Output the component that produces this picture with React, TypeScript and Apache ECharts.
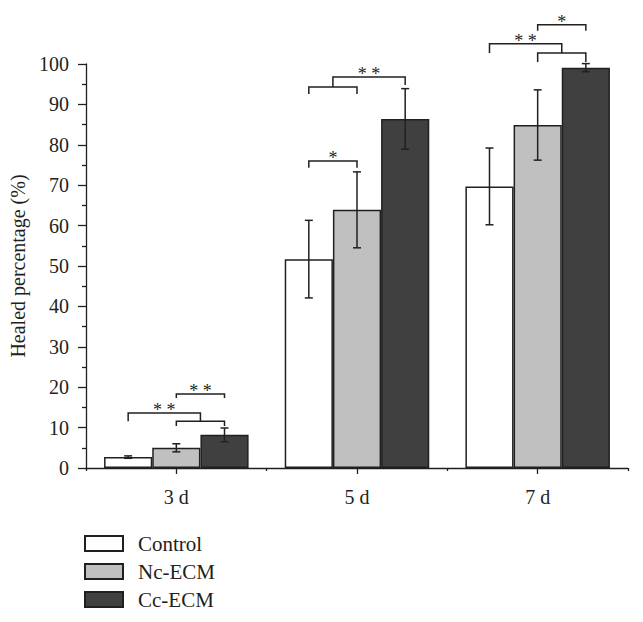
import React, { useEffect, useRef } from "react";
import * as echarts from "echarts";

const categories = ["3 d", "5 d", "7 d"];
const groups = ["Control", "Nc-ECM", "Cc-ECM"];
const controlMean = [2.7, 51.7, 69.7];
const controlSd = [0.3, 9.6, 9.5];
const ncMean = [5.0, 63.9, 84.9];
const ncSd = [1.0, 9.4, 8.7];
const ccMean = [8.2, 86.4, 99.1];
const ccSd = [1.7, 7.5, 1.0];
const yTicks = [0, 10, 20, 30, 40, 50, 60, 70, 80, 90, 100];

// [category, fromBar, toBar, topValue, leftLegBottom, rightLegBottom]
const brackets = [
  [0, 1, 2, 11.6, 10.4, 10.4],
  [0, 0, 1.5, 13.6, 11.6, 11.6],
  [0, 1, 2, 18.3, 17.3, 17.3],
  [1, 0, 1, 76.0, 74.3, 74.3],
  [1, 0, 1, 94.3, 92.6, 92.6],
  [1, 0.5, 2, 96.8, 94.3, 94.8],
  [2, 1, 2, 102.7, 100.5, 100.5],
  [2, 0, 1.5, 105.0, 102.7, 102.7],
  [2, 1, 2, 109.7, 108.2, 108.2],
];
const bracketLabels = ["", "* *", "* *", "*", "", "* *", "", "* *", "*"];

const colors = ["#ffffff", "#c0c0c0", "#404040"];
const ink = "#231f20";
const font = "Liberation Serif";

export default function App() {
  const ref = useRef<HTMLDivElement>(null);
  useEffect(() => {
    if (!ref.current) return;
    const chart = echarts.init(ref.current, undefined, { renderer: "svg" });
    const means = [controlMean, ncMean, ccMean];
    const sds = [controlSd, ncSd, ccSd];
    const errData: number[][] = [];
    for (let g = 0; g < 3; g++) {
      for (let c = 0; c < 3; c++) {
        errData.push([c, g, means[g][c], sds[g][c]]);
      }
    }
    const barSeries = groups.map((name, g) => ({
      name,
      type: "bar",
      data: means[g],
      barGap: "0%",
      barCategoryGap: "20%",
      itemStyle: { color: colors[g], borderColor: ink, borderWidth: 1.5 },
      z: 2,
    }));
    const option = {
      animation: false,
      textStyle: { fontFamily: font },
      grid: { left: 86, right: 15, top: 64, bottom: 154, containLabel: false },
      legend: {
        data: groups,
        orient: "vertical",
        left: 84,
        top: 533,
        height: 90,
        padding: 0,
        itemWidth: 38,
        itemHeight: 15,
        itemGap: 7,
        icon: "rect",
        textStyle: {
          fontFamily: font,
          fontSize: 21,
          color: ink,
          padding: [0, 0, 0, 10],
        },
      },
      xAxis: [
        {
          type: "category",
          data: categories,
          axisLine: { show: true, lineStyle: { color: ink, width: 1.3 } },
          axisTick: { show: true, alignWithLabel: true, length: 6, lineStyle: { color: ink, width: 1.3 } },
          axisLabel: { fontFamily: font, fontSize: 20, color: ink, margin: 19 },
          splitLine: { show: false },
        },
        {
          type: "category",
          data: categories,
          position: "bottom",
          axisLine: { show: false },
          axisTick: { show: true, length: 3, lineStyle: { color: ink, width: 1.3 } },
          axisLabel: { show: false },
          splitLine: { show: false },
        },
      ],
      yAxis: {
        type: "value",
        min: yTicks[0],
        max: yTicks[yTicks.length - 1],
        interval: 10,
        name: "Healed percentage (%)",
        nameLocation: "middle",
        nameGap: 53,
        nameRotate: 90,
        nameTextStyle: { fontFamily: font, fontSize: 20, color: ink },
        axisLine: { show: true, lineStyle: { color: ink, width: 1.3 } },
        axisTick: { show: true, length: 8, lineStyle: { color: ink, width: 1.3 } },
        minorTick: { show: true, splitNumber: 2, length: 4, lineStyle: { color: ink, width: 1.3 } },
        axisLabel: { fontFamily: font, fontSize: 20, color: ink, margin: 17 },
        splitLine: { show: false },
      },
      series: [
        ...barSeries,
        {
          type: "custom",
          name: "err",
          data: errData,
          encode: { x: 0, y: 2 },
          z: 5,
          renderItem: (params: any, api: any) => {
            const c = api.value(0);
            const g = api.value(1);
            const m = api.value(2);
            const s = api.value(3);
            const band = api.size([1, 0])[0];
            const bw = (band * 0.8) / 3;
            const center = api.coord([c, m]);
            const x = center[0] + (g - 1) * bw;
            const yHi = api.coord([c, m + s])[1];
            const yLo = api.coord([c, m - s])[1];
            const cap = 4;
            const st = { stroke: ink, lineWidth: 1.5 };
            return {
              type: "group",
              children: [
                { type: "line", shape: { x1: x, y1: yHi, x2: x, y2: yLo }, style: st },
                { type: "line", shape: { x1: x - cap, y1: yHi, x2: x + cap, y2: yHi }, style: st },
                { type: "line", shape: { x1: x - cap, y1: yLo, x2: x + cap, y2: yLo }, style: st },
              ],
            };
          },
        },
        {
          type: "custom",
          name: "sig",
          data: brackets,
          encode: { x: 0, y: 3 },
          z: 6,
          clip: false,
          renderItem: (params: any, api: any) => {
            const c = api.value(0);
            const from = api.value(1);
            const to = api.value(2);
            const top = api.value(3);
            const legL = api.value(4);
            const legR = api.value(5);
            const band = api.size([1, 0])[0];
            const bw = (band * 0.8) / 3;
            const base = api.coord([c, top]);
            const x1 = base[0] + (from - 1) * bw;
            const x2 = base[0] + (to - 1) * bw;
            const yT = base[1];
            const yL = api.coord([c, legL])[1];
            const yR = api.coord([c, legR])[1];
            const label = bracketLabels[params.dataIndex];
            const children: any[] = [
              {
                type: "polyline",
                shape: { points: [[x1, yL], [x1, yT], [x2, yT], [x2, yR]] },
                style: { stroke: ink, lineWidth: 1.5, fill: null },
              },
            ];
            if (label) {
              children.push({
                type: "text",
                x: (x1 + x2) / 2,
                y: yT + 6,
                style: {
                  text: label,
                  fontFamily: font,
                  fontSize: 18,
                  fill: ink,
                  align: "center",
                  verticalAlign: "bottom",
                },
              });
            }
            return { type: "group", children };
          },
        },
      ],
    };
    chart.setOption(option as any);
    return () => chart.dispose();
  }, []);
  return (
    <div
      ref={ref}
      style={{ position: "absolute", left: 0, top: 0, width: 643, height: 622, background: "#fff" }}
    />
  );
}
